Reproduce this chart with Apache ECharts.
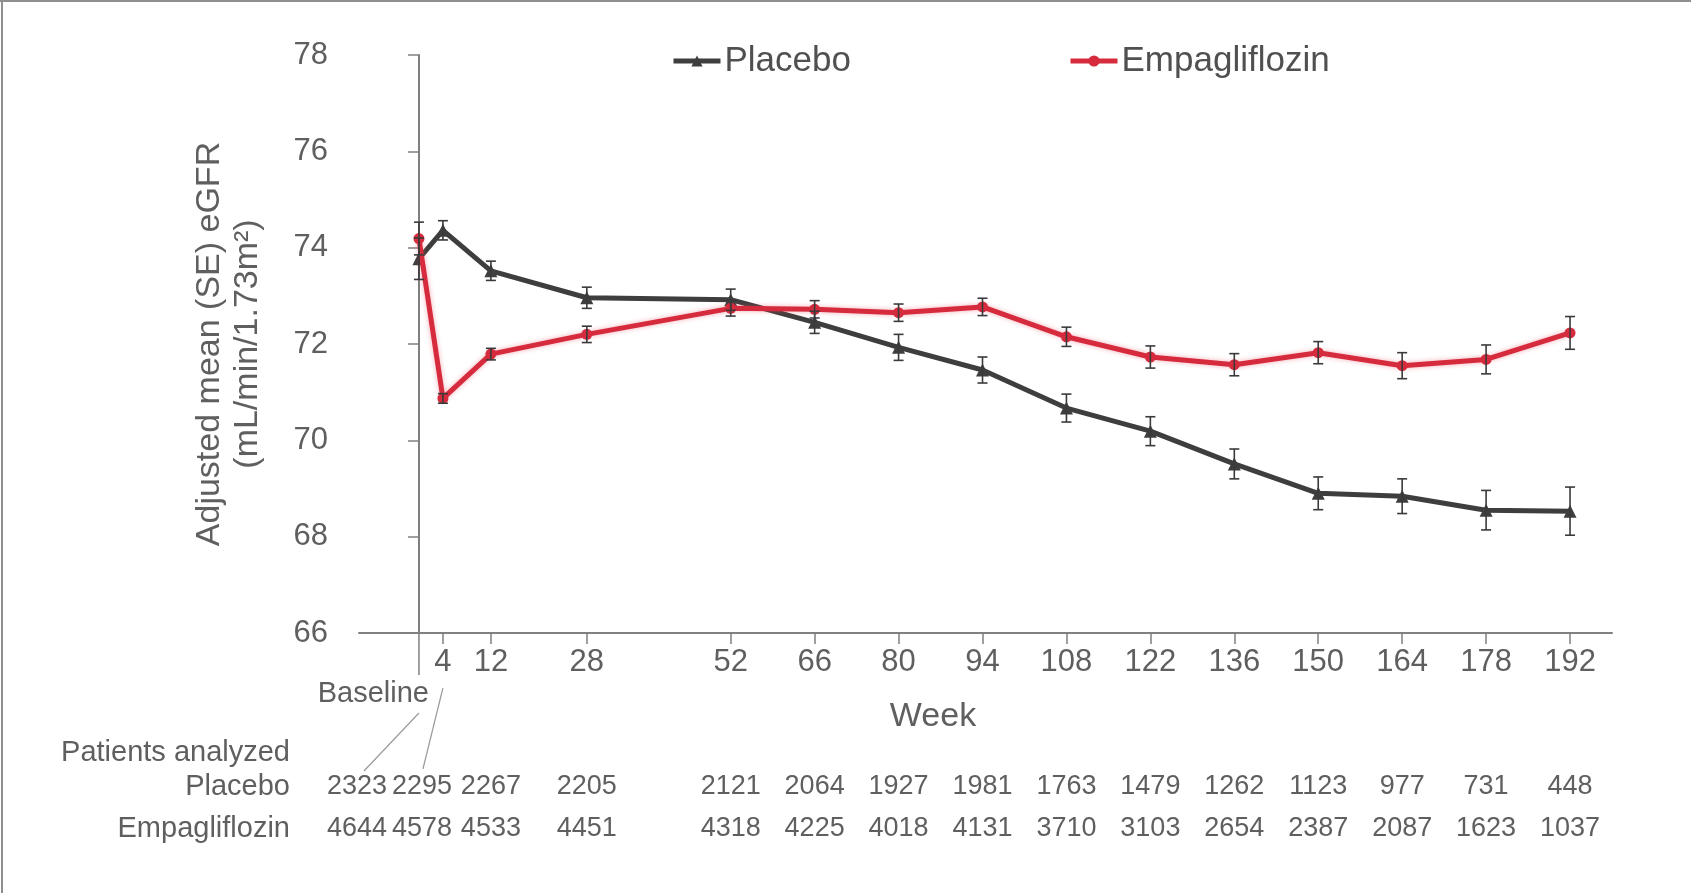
<!DOCTYPE html>
<html>
<head>
<meta charset="utf-8">
<script src="https://cdn.jsdelivr.net/npm/echarts@6/dist/echarts.min.js"></script>
<style>
  html, body { margin: 0; padding: 0; background: #fff; }
  #chart { width: 1691px; height: 893px; }
</style>
</head>
<body>
<div id="chart"></div>
<script>
// Visit weeks (0 = baseline)
const weeks = [0, 4, 12, 28, 52, 66, 80, 94, 108, 122, 136, 150, 164, 178, 192];

// Adjusted mean eGFR and standard error per visit
const placeboMean = [73.77, 74.36, 73.52, 72.96, 72.92, 72.45, 71.93, 71.46, 70.67, 70.19, 69.51, 68.90, 68.84, 68.55, 68.53];
const placeboSE   = [0.43, 0.20, 0.20, 0.22, 0.22, 0.23, 0.27, 0.27, 0.29, 0.30, 0.31, 0.34, 0.36, 0.41, 0.50];
const empaMean    = [74.19, 70.87, 71.79, 72.20, 72.74, 72.72, 72.65, 72.77, 72.15, 71.73, 71.57, 71.82, 71.55, 71.68, 72.23];
const empaSE      = [0.34, 0.10, 0.12, 0.17, 0.16, 0.18, 0.18, 0.18, 0.20, 0.23, 0.23, 0.23, 0.27, 0.30, 0.34];

// Patients analyzed at each visit
const placeboN = [2323, 2295, 2267, 2205, 2121, 2064, 1927, 1981, 1763, 1479, 1262, 1123, 977, 731, 448];
const empaN    = [4644, 4578, 4533, 4451, 4318, 4225, 4018, 4131, 3710, 3103, 2654, 2387, 2087, 1623, 1037];

// Labelled week ticks (baseline gets its own long tick)
const tickWeeks = weeks.slice(1);

const FONT = "'Liberation Sans', Arial, sans-serif";
const TEXT = '#5f5f5f';
const AXIS = '#808080';
const GREY_LINE = '#3e3e3e';
const RED = '#d62a3d';
const BAR = '#3a3a3a';

const chart = echarts.init(document.getElementById('chart'), null, { renderer: 'canvas' });

function errorBars(mean, se, name) {
  return {
    name: name,
    type: 'custom',
    z: 5,
    silent: true,
    data: weeks.map((w, i) => [w, mean[i] - se[i], mean[i] + se[i]]),
    encode: { x: 0, y: [1, 2] },
    renderItem: function (params, api) {
      const x = api.value(0);
      const lo = api.coord([x, api.value(1)]);
      const hi = api.coord([x, api.value(2)]);
      const cw = 5;
      const style = { stroke: BAR, lineWidth: 1.6 };
      return {
        type: 'group',
        children: [
          { type: 'line', shape: { x1: lo[0], y1: lo[1], x2: hi[0], y2: hi[1] }, style: style },
          { type: 'line', shape: { x1: lo[0] - cw, y1: lo[1], x2: lo[0] + cw, y2: lo[1] }, style: style },
          { type: 'line', shape: { x1: hi[0] - cw, y1: hi[1], x2: hi[0] + cw, y2: hi[1] }, style: style }
        ]
      };
    }
  };
}

const legendCommon = {
  top: 41,
  padding: 0,
  itemWidth: 47,
  itemHeight: 14,
  itemGap: 5,
  lineStyle: { width: 5 },
  textStyle: { fontFamily: FONT, fontSize: 35, color: '#505050', lineHeight: 40, padding: [0, 0, 0, -1] },
  selectedMode: false
};

const option = {
  animation: false,
  backgroundColor: '#ffffff',
  textStyle: { fontFamily: FONT },
  legend: [
    Object.assign({ data: ['Placebo'], left: 671 }, legendCommon),
    Object.assign({ data: ['Empagliflozin'], left: 1068 }, legendCommon)
  ],
  grid: { left: 359, right: 79, top: 55, bottom: 260, containLabel: false },
  xAxis: {
    type: 'value',
    min: -10,
    max: 199,
    axisLine: { show: true, lineStyle: { color: AXIS, width: 2 } },
    axisTick: { show: true, customValues: tickWeeks, length: 11, lineStyle: { color: AXIS, width: 1.5 } },
    axisLabel: { show: true, customValues: tickWeeks, margin: 14, fontSize: 31, color: TEXT, fontFamily: FONT },
    splitLine: { show: false }
  },
  yAxis: {
    type: 'value',
    min: 66,
    max: 78,
    interval: 2,
    name: 'Adjusted mean (SE) eGFR\n(mL/min/1.73m\u00B2)',
    nameLocation: 'middle',
    nameGap: 92,
    nameTextStyle: { fontFamily: FONT, fontSize: 34, lineHeight: 38, color: TEXT },
    axisLine: { show: true, lineStyle: { color: AXIS, width: 2 } },
    axisTick: { show: true, length: 11, lineStyle: { color: AXIS, width: 1.5 } },
    axisLabel: { margin: 31, fontSize: 31, color: TEXT, fontFamily: FONT },
    splitLine: { show: false }
  },
  series: [
    {
      name: 'Placebo',
      type: 'line',
      z: 3,
      data: weeks.map((w, i) => [w, placeboMean[i]]),
      symbol: 'triangle',
      symbolSize: 13,
      showAllSymbol: true,
      lineStyle: { color: GREY_LINE, width: 5 },
      itemStyle: { color: GREY_LINE }
    },
    {
      name: 'Empagliflozin',
      type: 'line',
      z: 4,
      data: weeks.map((w, i) => [w, empaMean[i]]),
      symbol: 'circle',
      symbolSize: 11,
      showAllSymbol: true,
      lineStyle: { color: RED, width: 5, shadowColor: 'rgba(230,70,90,0.45)', shadowBlur: 5 },
      itemStyle: { color: RED }
    },
    errorBars(placeboMean, placeboSE, 'Placebo SE'),
    errorBars(empaMean, empaSE, 'Empagliflozin SE')
  ]
};

chart.setOption(option);

// Baseline tick, leader lines and the patients-analyzed table, placed from the x scale
const px = (w) => chart.convertToPixel({ xAxisIndex: 0 }, w);
const axisY = chart.convertToPixel({ yAxisIndex: 0 }, 66);
const x0 = px(weeks[0]);
const x4 = px(weeks[1]);
// the first two table columns are shifted left so the numbers do not collide
const colX = weeks.map((w, i) => px(w) + (i === 0 ? -62 : i === 1 ? -21 : 0));

const rowPlaceboY = 787;
const rowEmpaY = 829;
const numStyle = { fontFamily: FONT, fontSize: 27, fill: TEXT, textAlign: 'center', textVerticalAlign: 'middle' };
const wordStyle = { fontFamily: FONT, fontSize: 29, fill: TEXT, textVerticalAlign: 'middle' };
const lineStyle = { stroke: AXIS, lineWidth: 1.5 };

const graphics = [
  // frame edges
  { type: 'rect', shape: { x: 0, y: 0, width: 1691, height: 2 }, style: { fill: '#8f8f8f' } },
  { type: 'rect', shape: { x: 1, y: 0, width: 2, height: 893 }, style: { fill: '#8f8f8f' } },
  // long baseline tick
  { type: 'line', shape: { x1: x0, y1: axisY, x2: x0, y2: axisY + 42 }, style: lineStyle },
  { type: 'text', style: Object.assign({ x: x0 + 10, y: 694, text: 'Baseline', textAlign: 'right' }, wordStyle) },
  // leader lines from baseline / week 4 to their table columns
  { type: 'line', shape: { x1: x0, y1: 713, x2: colX[0] + 7, y2: 771 }, style: { stroke: '#9a9a9a', lineWidth: 1.2 } },
  { type: 'line', shape: { x1: x4, y1: 688, x2: colX[1] + 1, y2: 769 }, style: { stroke: '#9a9a9a', lineWidth: 1.2 } },
  { type: 'text', style: Object.assign({ x: 933, y: 717, text: 'Week', textAlign: 'center' }, wordStyle, { fontSize: 34 }) },
  { type: 'text', style: Object.assign({ x: 290, y: 753, text: 'Patients analyzed', textAlign: 'right' }, wordStyle) },
  { type: 'text', style: Object.assign({ x: 290, y: rowPlaceboY, text: 'Placebo', textAlign: 'right' }, wordStyle) },
  { type: 'text', style: Object.assign({ x: 290, y: rowEmpaY, text: 'Empagliflozin', textAlign: 'right' }, wordStyle) }
];

weeks.forEach((w, i) => {
  graphics.push({ type: 'text', style: Object.assign({ x: colX[i], y: rowPlaceboY, text: String(placeboN[i]) }, numStyle) });
  graphics.push({ type: 'text', style: Object.assign({ x: colX[i], y: rowEmpaY, text: String(empaN[i]) }, numStyle) });
});

chart.setOption({ graphic: graphics });
</script>
</body>
</html>
